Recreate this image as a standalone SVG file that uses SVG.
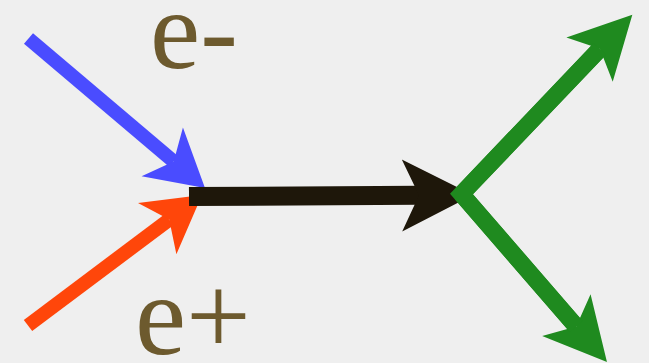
<svg xmlns="http://www.w3.org/2000/svg" width="649" height="363" viewBox="0 0 649 363">
  <style>
    .lbl { fill: #6d5a2e; }
    .shaft { fill: none; stroke-linecap: butt; }
  </style>
  <defs>
    <marker id="headBlue" markerUnits="userSpaceOnUse" orient="auto" refX="0" refY="0" markerWidth="80" markerHeight="80" viewBox="-20 -40 80 80" overflow="visible">
      <path d="M41,0 L-15,-32 L0,0 L-15,32 Z" fill="#4a4cff"/>
    </marker>
    <marker id="headRed" markerUnits="userSpaceOnUse" orient="auto" refX="0" refY="0" markerWidth="80" markerHeight="80" viewBox="-20 -40 80 80" overflow="visible">
      <path d="M41,0 L-15,-32 L0,0 L-15,32 Z" fill="#ff460a"/>
    </marker>
    <marker id="headBlack" markerUnits="userSpaceOnUse" orient="auto" refX="0" refY="0" markerWidth="90" markerHeight="90" viewBox="-20 -45 90 90" overflow="visible">
      <path d="M54,0 L-17,-36 L0,0 L-17,36 Z" fill="#1e170a"/>
    </marker>
    <marker id="headGreen" markerUnits="userSpaceOnUse" orient="auto" refX="0" refY="0" markerWidth="80" markerHeight="80" viewBox="-20 -40 80 80" overflow="visible">
      <path d="M47,0 L-15,-32 L0,0 L-15,32 Z" fill="#1f8a1f"/>
    </marker>
  </defs>

  <rect id="background" x="0" y="0" width="649" height="363" fill="#efefef"/>

  <g id="connectors">
    <path id="positron" class="shaft" d="M28,325.5 L169.2,219.6" stroke="#ff460a" stroke-width="14" marker-end="url(#headRed)"/>
    <path id="electron" class="shaft" d="M28.5,38.5 L173.7,161.5" stroke="#4a4cff" stroke-width="14" marker-end="url(#headBlue)"/>
    <path id="boson" class="shaft" d="M189,196.5 L419,195.3" stroke="#1e170a" stroke-width="19" marker-end="url(#headBlack)"/>
    <path id="out-upper" class="shaft" d="M461.5,194 L599.9,48.8" stroke="#1f8a1f" stroke-width="17" marker-end="url(#headGreen)"/>
    <path id="out-lower" class="shaft" d="M461.5,194 L576.2,326.5" stroke="#1f8a1f" stroke-width="17" marker-end="url(#headGreen)"/>
    <path id="vertex-join" class="shaft" d="M599.9,48.8 L461.5,194 L576.2,326.5" stroke="#1f8a1f" stroke-width="17" stroke-linejoin="miter"/>
  </g>

  <g id="label-electron">
    <text class="lbl" x="150" y="68" font-family="'Liberation Serif', 'DejaVu Serif', serif" font-size="113">e-</text>
  </g>
  <g id="label-positron">
    <text class="lbl" x="135" y="354" font-family="'Liberation Serif', 'DejaVu Serif', serif" font-size="115">e+</text>
  </g>
</svg>
